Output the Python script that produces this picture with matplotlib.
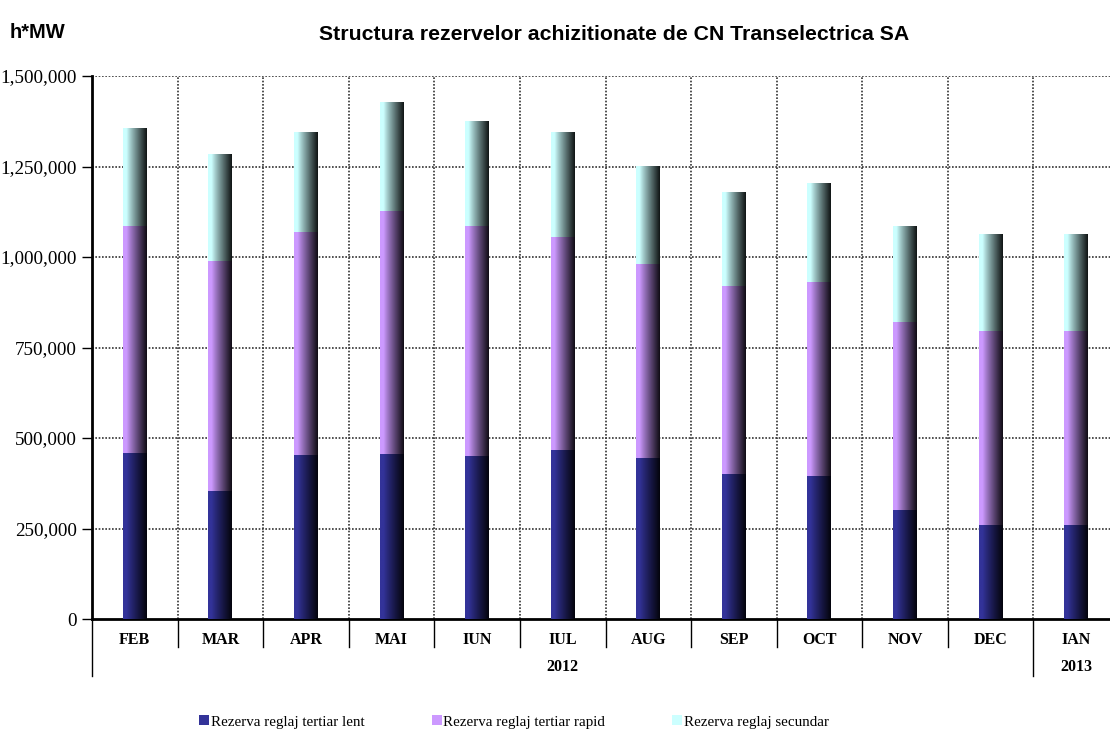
import matplotlib.pyplot as plt
import numpy as np

months = ['FEB', 'MAR', 'APR', 'MAI', 'IUN', 'IUL', 'AUG', 'SEP', 'OCT', 'NOV', 'DEC', 'IAN']
years = ['2012', '2013']
series_names = ['Rezerva reglaj tertiar lent', 'Rezerva reglaj tertiar rapid', 'Rezerva reglaj secundar']

# h*MW
lent = [458600, 353600, 453000, 455800, 450000, 466900, 444700, 400500, 395000, 301000, 259700, 259700]
rapid = [627000, 635400, 616000, 671200, 635600, 588100, 536000, 519500, 536000, 519000, 535900, 535900]
secundar = [268000, 295500, 276000, 300800, 287400, 287500, 268300, 259600, 273000, 263000, 265400, 267900]

base_cols = ['#333399', '#CC99FF', '#CCFFFF']

plt.rcParams['font.family'] = ['Liberation Serif', 'DejaVu Serif']

fig = plt.figure(figsize=(11.1, 7.38), dpi=100)
ax = fig.add_axes([92/1110, 1-619/738, (1119-92)/1110, 543/738])

x = np.arange(len(months))
w = 0.28
bottom = np.zeros(len(months))
handles = []
for vals, col, name in zip([lent, rapid, secundar], base_cols, series_names):
    bars = ax.bar(x, vals, w, bottom=bottom, color=col, label=name, zorder=3, linewidth=0)
    handles.append(bars)
    # gradient overlay: light on the left, almost black on the right
    c = np.array(plt.matplotlib.colors.to_rgb(col))
    t = np.linspace(0, 1, 64)
    f = np.clip((t - 0.15) / 0.85, 0, 1)
    k = 1 - 0.92 * f ** 0.9
    img = (c[None, :] * k[:, None])[None, :, :]
    for p in bars.patches:
        x0, y0 = p.get_x(), p.get_y()
        ax.imshow(img, extent=[x0, x0 + p.get_width(), y0, y0 + p.get_height()],
                  aspect='auto', zorder=4, interpolation='bilinear')
    bottom = bottom + np.array(vals)

ax.set_xlim(-0.5, len(months) - 0.5)
ax.set_ylim(0, 1500000)
ax.set_yticks(np.arange(0, 1500001, 250000))
ax.set_yticklabels(['{:,}'.format(v) for v in range(0, 1500001, 250000)], fontsize=13.8)
ax.tick_params(axis='y', length=7, width=1, pad=4)
ax.set_xticks([])

for yv in range(250000, 1500001, 250000):
    ax.axhline(yv, color='#333333', ls=(0, (1, 1)), lw=1.2, zorder=1)
for xv in np.arange(0.5, len(months) - 0.5, 1):
    ax.axvline(xv, color='#333333', ls=(0, (1, 1)), lw=1.2, zorder=1)

for s in ['top', 'right']:
    ax.spines[s].set_visible(False)
ax.spines['left'].set_linewidth(2)
ax.spines['bottom'].set_linewidth(2)

tr = ax.get_xaxis_transform()
for i, m in enumerate(months):
    ax.text(i, -0.038, m, transform=tr, ha='center', va='center', fontsize=11.5, fontweight='bold')
for xv in np.arange(0.5, len(months) - 1, 1):
    if xv == len(months) - 1.5:
        continue
    ax.plot([xv, xv], [0, -0.052], transform=tr, color='black', lw=1, clip_on=False)
for xv in [-0.5, len(months) - 1.5]:
    ax.plot([xv, xv], [0, -0.105], transform=tr, color='black', lw=1, clip_on=False)
ax.text((len(months) - 2) / 2, -0.089, years[0], transform=tr, ha='center', va='center',
        fontsize=11.5, fontweight='bold')
ax.text(len(months) - 1, -0.089, years[1], transform=tr, ha='center', va='center',
        fontsize=11.5, fontweight='bold')

fig.text(614/1110, 1-34/738, 'Structura rezervelor achizitionate de CN Transelectrica SA',
         ha='center', va='center', fontsize=15.3, fontweight='bold', family=['Liberation Sans', 'DejaVu Sans'])
fig.text(10/1110, 1-33/738, 'h*MW', ha='left', va='center', fontsize=14.5, fontweight='bold',
         family=['Liberation Sans', 'DejaVu Sans'])

fig.legend(handles=handles, loc='center', bbox_to_anchor=(514/1110, 1-722/738), ncol=3,
           frameon=False, fontsize=10.8, handlelength=0.65, handleheight=0.65, handletextpad=0.1,
           columnspacing=4.5)

fig.savefig('out.png', dpi=100)
